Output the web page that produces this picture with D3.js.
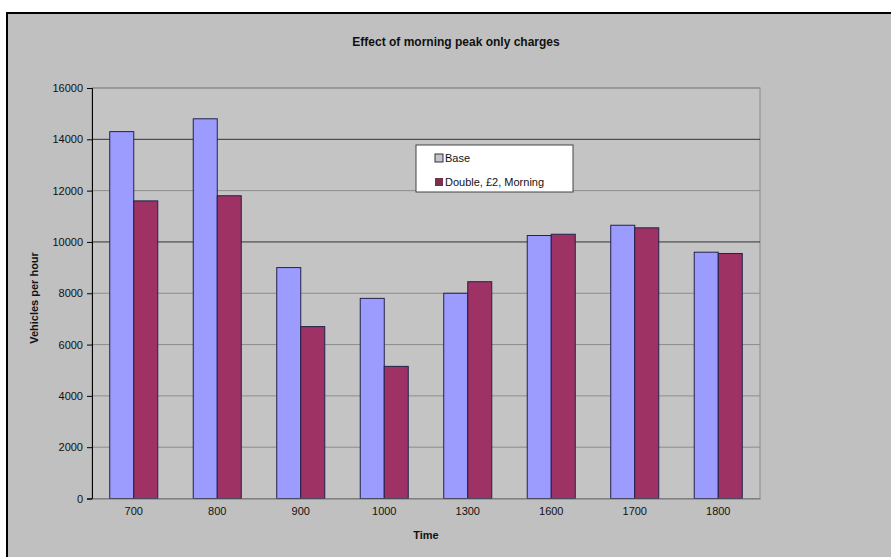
<!DOCTYPE html>
<html>
<head>
<meta charset="utf-8">
<script src="https://cdn.jsdelivr.net/npm/d3@7"></script>
<style>
  body { margin: 0; background: #fff; }
  text { font-family: Arial, "Liberation Sans", sans-serif; fill: #111; }
</style>
</head>
<body>
<div id="chart"></div>
<script>
const times = ["700", "800", "900", "1000", "1300", "1600", "1700", "1800"];
const seriesNames = ["Base", "Double, £2, Morning"];
const base = [14300, 14800, 9000, 7800, 8000, 10250, 10650, 9600];
const doubleMorning = [11600, 11800, 6700, 5150, 8450, 10300, 10550, 9550];
const yTicks = [0, 2000, 4000, 6000, 8000, 10000, 12000, 14000, 16000];

const width = 891, height = 557;
const margin = {top: 88, right: 131, bottom: 58.5, left: 92};
const colors = ["#9c9cff", "#9e3264"];

const svg = d3.select("#chart")
  .append("svg")
    .attr("width", width)
    .attr("height", height);

// outer chart frame
svg.append("rect")
  .attr("x", 7).attr("y", 13)
  .attr("width", width).attr("height", height)
  .attr("fill", "#c0c0c0")
  .attr("stroke", "#000")
  .attr("stroke-width", 2);

const x = d3.scaleBand()
  .domain(times)
  .range([margin.left, width - margin.right])
  .paddingInner(0.425)
  .paddingOuter(0.2125);

const xs = d3.scaleBand()
  .domain(seriesNames)
  .range([0, x.bandwidth()]);

const y = d3.scaleLinear()
  .domain([0, 16000])
  .range([height - margin.bottom, margin.top]);

// plot area border
svg.append("rect")
  .attr("x", margin.left).attr("y", margin.top)
  .attr("width", width - margin.right - margin.left)
  .attr("height", y(0) - margin.top)
  .attr("fill", "#c4c4c4")
  .attr("stroke", "#8a8a8a")
  .attr("stroke-width", 1);

// gridlines
svg.append("g")
  .selectAll("line")
  .data(yTicks.filter(d => d > 0))
  .join("line")
    .attr("x1", margin.left).attr("x2", width - margin.right)
    .attr("y1", d => y(d)).attr("y2", d => y(d))
    .attr("stroke", d => (d === 14000 || d === 10000) ? "#333" : "#8c8c8c")
    .attr("stroke-width", 1);

// bars
const rows = times.map((t, i) => ({time: t, values: [base[i], doubleMorning[i]]}));
svg.append("g")
  .selectAll("g")
  .data(rows)
  .join("g")
    .attr("transform", d => `translate(${x(d.time)},0)`)
  .selectAll("rect")
  .data(d => d.values.map((v, j) => ({name: seriesNames[j], value: v, j})))
  .join("rect")
    .attr("x", d => xs(d.name))
    .attr("y", d => y(d.value))
    .attr("width", xs.bandwidth())
    .attr("height", d => y(0) - y(d.value))
    .attr("fill", d => colors[d.j])
    .attr("stroke", "#22224a")
    .attr("stroke-width", 1);

// axes
const yAxis = svg.append("g")
  .attr("transform", `translate(${margin.left},0)`)
  .call(d3.axisLeft(y).tickValues(yTicks).tickSize(5).tickPadding(4).tickFormat(d3.format("d")));
yAxis.select(".domain").attr("stroke", "#000");
yAxis.selectAll("text").attr("font-size", 11).style("font-family", "Arial, 'Liberation Sans', sans-serif");

const xAxis = svg.append("g")
  .attr("transform", `translate(0,${y(0)})`)
  .call(d3.axisBottom(x).tickSize(0).tickPadding(9));
xAxis.select(".domain").attr("stroke", "#777");
xAxis.selectAll("text").attr("font-size", 11).style("font-family", "Arial, 'Liberation Sans', sans-serif");

// titles
svg.append("text")
  .attr("x", 456).attr("y", 46)
  .attr("text-anchor", "middle")
  .attr("font-size", 12)
  .attr("font-weight", "bold")
  .text("Effect of morning peak only charges");

svg.append("text")
  .attr("x", 426).attr("y", 539)
  .attr("text-anchor", "middle")
  .attr("font-size", 11)
  .attr("font-weight", "bold")
  .text("Time");

svg.append("text")
  .attr("transform", "translate(38,298) rotate(-90)")
  .attr("text-anchor", "middle")
  .attr("font-size", 11)
  .attr("font-weight", "bold")
  .text("Vehicles per hour");

// legend
const legend = svg.append("g").attr("transform", "translate(416,145)");
legend.append("rect")
  .attr("width", 157).attr("height", 47)
  .attr("fill", "#fff")
  .attr("stroke", "#444")
  .attr("stroke-width", 1);
const legendFill = ["#c4c4cc", "#7a2f4a"];
seriesNames.forEach((name, i) => {
  legend.append("rect")
    .attr("x", 19).attr("y", 9 + i * 24)
    .attr("width", 8).attr("height", 8)
    .attr("fill", legendFill[i])
    .attr("stroke", i === 0 ? "#333" : "none");
  legend.append("text")
    .attr("x", 29).attr("y", 17 + i * 24)
    .attr("font-size", 11)
    .text(name);
});
</script>
</body>
</html>
